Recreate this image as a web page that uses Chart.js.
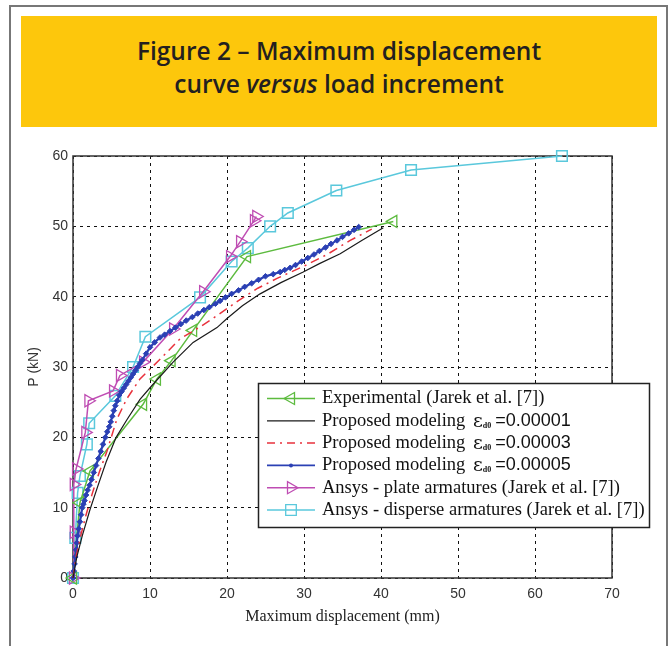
<!DOCTYPE html>
<html>
<head>
<meta charset="utf-8">
<script src="https://cdn.jsdelivr.net/npm/chart.js@4/dist/chart.umd.min.js"></script>
<style>
  body { margin: 0; background: #fff; width: 672px; height: 646px; overflow: hidden; position: relative; }
  #frame { position: absolute; left: 9px; top: 5px; width: 655px; height: 660px; border: 2px solid #777; }
  #banner { position: absolute; left: 21px; top: 16px; width: 636px; height: 111px; background: #fdc70c; }
  #banner div { position: absolute; left: 0; width: 100%; text-align: center; font-family: "Open Sans", sans-serif; font-weight: 600; font-size: 24.5px; color: #231f20; }
  #chart { position: absolute; left: 0; top: 0; }
</style>
</head>
<body>
<div id="frame"></div>
<div id="banner">
  <div style="top:18px">Figure 2 – Maximum displacement</div>
  <div style="top:51px">curve <i>versus</i> load increment</div>
</div>
<canvas id="chart" width="672" height="646"></canvas>
<script>
// displacement (mm) / load (kN)
const expX = [0, 0.9, 2.2, 9.1, 10.9, 12.8, 15.6, 22.6, 41.6];
const expY = [0, 10.7, 15.2, 24.7, 28.3, 30.9, 35.2, 45.7, 50.7];

const m1X = [0, 0.5, 1.2, 2.2, 3.2, 4.3, 5.6, 7.0, 8.7, 10.2, 13.0, 15.6, 18.7, 20.0, 22.0, 24.3, 27.0, 29.9, 32.0, 34.7, 37.5, 40.3];
const m1Y = [0, 3, 6, 9.7, 13, 16.5, 20, 22.5, 25.4, 27.3, 30.7, 33.5, 35.6, 36.9, 38.7, 40.4, 42.0, 43.5, 44.7, 46.1, 48.0, 49.8];

const m3X = [0, 0.4, 1.0, 1.7, 2.5, 3.4, 4.4, 5.7, 7.0, 8.7, 11.3, 13.9, 16.5, 18.7, 21.3, 24.0, 26.5, 30.3, 33.0, 36.0, 38.8];
const m3Y = [0, 3, 6, 9, 12, 15, 18, 22.6, 25.5, 28.3, 31.1, 34.0, 35.7, 37.3, 39.3, 41.2, 42.6, 44.5, 46.0, 48.0, 49.6];

const m5X = [0, 0.1, 0.2, 0.3, 0.4, 0.5, 0.6, 0.75, 0.9, 1.05, 1.2, 1.35, 1.5, 1.7, 1.9, 2.15, 2.4, 2.7, 3.0, 3.3, 3.6, 3.9, 4.2, 4.45, 4.7, 4.9, 5.1, 5.3, 5.5, 5.75, 6.0, 6.3, 6.6, 6.9, 7.2, 7.5, 7.8, 8.1, 8.4, 8.7, 9.0, 9.5, 10.0, 10.6, 11.3, 11.9, 12.6, 13.3, 14.0, 14.7, 15.5, 16.2, 17.0, 17.7, 18.5, 19.1, 19.8, 20.6, 21.5, 22.3, 23.2, 24.1, 25.0, 26.0, 26.9, 27.5, 28.2, 28.9, 29.7, 30.5, 31.3, 32.0, 32.8, 33.5, 34.3, 35.0, 35.8, 36.5, 37.1];
const m5Y = [0, 1, 2, 3, 4, 5, 6, 7, 8, 9, 10, 10.5, 11, 11.8, 12.5, 13.2, 14, 15, 16, 17, 18, 19, 20, 20.8, 21.5, 22.2, 23, 23.8, 24.5, 25.2, 26, 26.5, 27, 27.5, 28, 28.5, 29, 29.5, 30, 30.5, 31, 31.9, 32.8, 33.5, 34.2, 34.6, 35.1, 35.6, 36.1, 36.6, 37.1, 37.6, 38.1, 38.5, 39.0, 39.4, 39.9, 40.4, 40.9, 41.4, 41.9, 42.4, 42.9, 43.2, 43.5, 43.8, 44.1, 44.5, 45.0, 45.5, 46.0, 46.5, 47.0, 47.5, 48.0, 48.5, 49.0, 49.5, 49.9];

const plateX = [0, 0.1, 0.1, 0.4, 1.6, 2.0, 5.2, 6.1, 9.1, 13.0, 16.9, 20.4, 21.7, 23.5, 23.8];
const plateY = [0, 6.5, 13.3, 15.5, 20.7, 25.2, 26.6, 28.8, 30.7, 35.4, 40.7, 45.7, 47.8, 50.8, 51.4];

const dispX = [0, 0.3, 0.6, 0.9, 1.8, 2.1, 5.5, 7.8, 9.4, 16.5, 20.6, 22.7, 25.6, 27.9, 34.2, 43.9, 63.5];
const dispY = [0, 5.7, 12.1, 14.5, 19.0, 22.0, 25.9, 30.0, 34.3, 39.9, 45.0, 46.9, 50.0, 51.9, 55.1, 58.0, 60.0];

const xTicks = [0, 10, 20, 30, 40, 50, 60, 70];
const yTicks = [0, 10, 20, 30, 40, 50, 60];

const legendRows = [
  ['Experimental (Jarek et al. [7])'],
  ['Proposed modeling ', '0.00001'],
  ['Proposed modeling ', '0.00003'],
  ['Proposed modeling ', '0.00005'],
  ['Ansys - plate armatures (Jarek et al. [7])'],
  ['Ansys - disperse armatures (Jarek et al. [7])']
];

const GREEN = '#5dbb3f', BLACK = '#1a1a1a', RED = '#e8323c', BLUE = '#2b40b4', MAGENTA = '#bf4db3', CYAN = '#5ac8dc';

const pts = (xs, ys) => xs.map((x, i) => ({ x: x, y: ys[i] }));

const datasets = [
  { data: pts(m1X, m1Y), borderColor: BLACK, borderWidth: 1.2, pointRadius: 0 },
  { data: pts(m3X, m3Y), borderColor: RED, borderWidth: 1.5, borderDash: [9, 5, 2, 5], pointRadius: 0 },
  { data: pts(m5X, m5Y), borderColor: BLUE, borderWidth: 2.2, pointStyle: 'rectRot', pointRadius: 2.8,
    pointBorderColor: BLUE, pointBackgroundColor: BLUE, pointBorderWidth: 1 },
  { data: pts(expX, expY), borderColor: GREEN, borderWidth: 1.5, pointStyle: 'triangle', rotation: -90,
    pointRadius: 7, pointBorderColor: GREEN, pointBackgroundColor: 'rgba(0,0,0,0)', pointBorderWidth: 1.3 },
  { data: pts(plateX, plateY), borderColor: MAGENTA, borderWidth: 1.5, pointStyle: 'triangle', rotation: 90,
    pointRadius: 7, pointBorderColor: MAGENTA, pointBackgroundColor: 'rgba(0,0,0,0)', pointBorderWidth: 1.3 },
  { data: pts(dispX, dispY), borderColor: CYAN, borderWidth: 1.5, pointStyle: 'rect',
    pointRadius: 7.5, pointBorderColor: CYAN, pointBackgroundColor: 'rgba(0,0,0,0)', pointBorderWidth: 1.5 }
];
datasets.forEach(d => { d.showLine = true; d.clip = 12; d.tension = 0; });

function marker(ctx, kind, x, y, color) {
  ctx.save();
  ctx.strokeStyle = color; ctx.fillStyle = color; ctx.lineWidth = 1.3; ctx.setLineDash([]);
  ctx.beginPath();
  if (kind === 'left') {
    ctx.moveTo(x - 7, y); ctx.lineTo(x + 3.5, y - 6); ctx.lineTo(x + 3.5, y + 6); ctx.closePath(); ctx.stroke();
  } else if (kind === 'right') {
    ctx.moveTo(x + 7, y); ctx.lineTo(x - 3.5, y - 6); ctx.lineTo(x - 3.5, y + 6); ctx.closePath(); ctx.stroke();
  } else if (kind === 'square') {
    ctx.rect(x - 5.3, y - 5.3, 10.6, 10.6); ctx.stroke();
  } else if (kind === 'dot') {
    ctx.arc(x, y, 2, 0, Math.PI * 2); ctx.fill();
  }
  ctx.restore();
}

const legendStyle = [
  { color: GREEN, width: 1.5, dash: [], mark: 'left' },
  { color: BLACK, width: 1.2, dash: [], mark: null },
  { color: RED, width: 1.5, dash: [8, 5, 2, 5], mark: null },
  { color: BLUE, width: 1.6, dash: [], mark: 'dot' },
  { color: MAGENTA, width: 1.5, dash: [], mark: 'right' },
  { color: CYAN, width: 1.5, dash: [], mark: 'square' }
];

const framePlugin = {
  id: 'frame',
  beforeDatasetsDraw(chart) {
    const { ctx, chartArea: a } = chart;
    ctx.save();
    ctx.strokeStyle = '#333';
    ctx.lineWidth = 1.5;
    ctx.strokeRect(a.left, a.top, a.right - a.left, a.bottom - a.top);
    ctx.restore();
  },
  afterDraw(chart) {
    const ctx = chart.ctx;
    const L = 258, T = 383, W = 392, H = 145;
    ctx.save();
    ctx.fillStyle = '#fff';
    ctx.fillRect(L, T, W, H);
    ctx.strokeStyle = '#222';
    ctx.lineWidth = 1.5;
    ctx.strokeRect(L + 0.5, T + 0.5, W - 1, H - 1);
    legendRows.forEach((row, i) => {
      const y = 398.5 + i * 22.3;
      const st = legendStyle[i];
      ctx.strokeStyle = st.color; ctx.lineWidth = st.width; ctx.setLineDash(st.dash);
      ctx.beginPath(); ctx.moveTo(267, y); ctx.lineTo(315, y); ctx.stroke();
      ctx.setLineDash([]);
      if (st.mark) marker(ctx, st.mark, 291, y, st.color);
      ctx.fillStyle = '#111';
      ctx.textBaseline = 'middle';
      let x = 322;
      ctx.font = '18.5px "Liberation Serif", serif';
      if (row.length === 1) {
        ctx.fillText(row[0], x, y, 325);
      } else {
        ctx.fillText(row[0], x, y);
        x += ctx.measureText(row[0]).width + 3;
        ctx.font = '19px "DejaVu Serif", serif';
        ctx.fillText('\u03b5', x, y + 1);
        x += ctx.measureText('\u03b5').width;
        ctx.font = 'bold 8px "Liberation Serif", serif';
        ctx.fillText('d0', x, y + 5);
        x += ctx.measureText('d0').width + 4;
        ctx.font = '18px "Liberation Sans", sans-serif';
        ctx.fillText('=' + row[1], x, y, 114);
      }
    });
    ctx.restore();
  }
};

new Chart(document.getElementById('chart'), {
  type: 'scatter',
  data: { datasets: datasets },
  options: {
    responsive: false,
    animation: false,
    events: [],
    layout: { padding: { left: 22, top: 156, right: 60, bottom: 16 } },
    plugins: { legend: { display: false }, tooltip: { enabled: false } },
    scales: {
      x: {
        type: 'linear', min: 0, max: 70,
        afterBuildTicks: s => { s.ticks = xTicks.map(v => ({ value: v })); },
        afterFit: s => { s.height = 52; },
        grid: { color: '#111', lineWidth: 1, drawTicks: false },
        border: { display: false, dash: [3, 4] },
        ticks: { padding: 8, color: '#333', font: { family: '"Liberation Sans", sans-serif', size: 14 } },
        title: { display: true, text: 'Maximum displacement (mm)', color: '#222',
          font: { family: '"Liberation Serif", serif', size: 16 }, padding: { top: 4, bottom: 4 } }
      },
      y: {
        type: 'linear', min: 0, max: 60,
        afterBuildTicks: s => { s.ticks = yTicks.map(v => ({ value: v })); },
        afterFit: s => { s.width = 51; },
        grid: { color: '#111', lineWidth: 1, drawTicks: false },
        border: { display: false, dash: [3, 4] },
        ticks: { padding: 5, color: '#333', font: { family: '"Liberation Sans", sans-serif', size: 14 } },
        title: { display: true, text: 'P (kN)', color: '#333',
          font: { family: '"Liberation Sans", sans-serif', size: 14 }, padding: { top: 4, bottom: 4 } }
      }
    }
  },
  plugins: [framePlugin]
});
</script>
</body>
</html>
